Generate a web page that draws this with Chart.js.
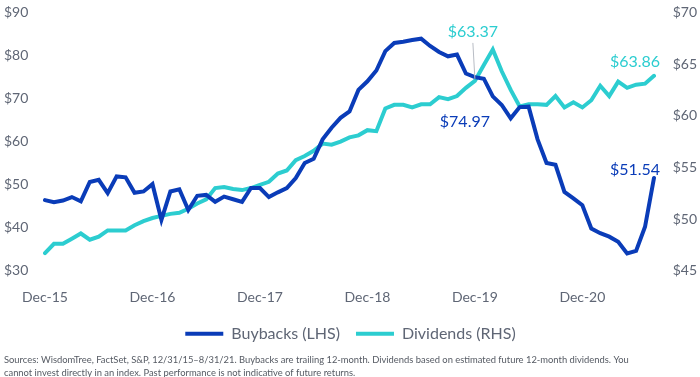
<!DOCTYPE html>
<html>
<head>
<meta charset="utf-8">
<script src="https://cdn.jsdelivr.net/npm/chart.js@4"></script>
<style>
  html, body { margin: 0; padding: 0; background: #fff; }
  #wrap { width: 700px; height: 377px; }
</style>
</head>
<body>
<div id="wrap"><canvas id="myChart"></canvas></div>
<script>
var monthNames = ["Jan","Feb","Mar","Apr","May","Jun","Jul","Aug","Sep","Oct","Nov","Dec"];
var xValues = [];
for (var y = 2015, m = 11; y < 2021 || (y == 2021 && m <= 7); m++) {
    if (m > 11) { m = 0; y++; }
    if (y == 2021 && m > 7) break;
    xValues.push(monthNames[m] + "-" + String(y).slice(2));
}
var tickLabels = ["Dec-15", "Dec-16", "Dec-17", "Dec-18", "Dec-19", "Dec-20"];

var buybacks = [46.4, 45.9, 46.3, 47.1, 46.1, 50.6, 51.1, 48.0, 51.9, 51.7, 48.1, 48.4,
    50.1, 41.8, 48.4, 48.9, 44.1, 47.4, 47.6, 46.0, 47.2, 46.6, 46.0, 49.2,
    49.2, 47.1, 48.2, 49.2, 51.5, 55.0, 56.0, 60.5, 63.2, 65.5, 67.0, 72.0,
    74.0, 76.5, 81.0, 82.9, 83.2, 83.6, 83.9, 82.2, 80.8, 79.8, 80.2, 75.8,
    74.97, 74.6, 70.5, 68.5, 65.4, 68.0, 68.1, 60.5, 55.0, 54.6, 48.3, 46.8,
    45.2, 39.8, 38.7, 37.9, 36.7, 34.0, 34.6, 40.2, 51.54];
var dividends = [46.7, 47.6, 47.6, 48.1, 48.6, 48.0, 48.3, 48.9, 48.9, 48.9, 49.4, 49.8,
    50.1, 50.3, 50.5, 50.6, 51.0, 51.5, 51.9, 53.0, 53.1, 52.9, 52.8, 53.0,
    53.3, 53.6, 54.4, 54.7, 55.7, 56.1, 56.6, 57.3, 57.2, 57.5, 57.9, 58.1,
    58.6, 58.5, 60.7, 61.05, 61.05, 60.8, 61.1, 61.1, 61.8, 61.6, 61.9, 62.7,
    63.37, 64.9, 66.4, 64.3, 62.5, 60.9, 61.1, 61.1, 61.05, 61.9, 60.8, 61.3,
    60.8, 61.5, 62.9, 61.9, 63.3, 62.7, 63.0, 63.1, 63.86];

var darkBlue = "#0a3cb8";
var cyan = "#2ccdd0";
var greyText = "#5f6675";
var fontName = "Lato";

// labels on the chart: [dataset, index, dx, dy, leader line]
var callouts = [
    [1, 48, -2, -49, true],
    [0, 48, -10, 45, false],
    [1, 68, -19, -14, false],
    [0, 68, -19, -8, false]
];

var calloutPlugin = {
    id: "callouts",
    afterDatasetsDraw: function(chart) {
        var ctx = chart.ctx;
        ctx.save();
        ctx.font = "16px " + fontName;
        ctx.textAlign = "center";
        ctx.textBaseline = "middle";
        callouts.forEach(function(c) {
            var ds = chart.data.datasets[c[0]];
            var pt = chart.getDatasetMeta(c[0]).data[c[1]];
            var tx = pt.x + c[2], ty = pt.y + c[3];
            if (c[4]) {
                ctx.strokeStyle = "#b8bcc4";
                ctx.lineWidth = 1;
                ctx.beginPath();
                ctx.moveTo(tx, ty + 11);
                ctx.lineTo(pt.x, pt.y - 2);
                ctx.stroke();
            }
            ctx.fillStyle = ds.borderColor;
            ctx.fillText("$" + ds.data[c[1]].toFixed(2), tx, ty);
        });
        ctx.restore();
    }
};

new Chart("myChart", {
    type: "line",
    data: {
        labels: xValues,
        datasets: [{
            label: "Buybacks (LHS)",
            data: buybacks,
            borderColor: darkBlue,
            backgroundColor: darkBlue,
            borderWidth: 4,
            borderCapStyle: "round",
            pointRadius: 0,
            tension: 0,
            yAxisID: "y"
        }, {
            label: "Dividends (RHS)",
            data: dividends,
            borderColor: cyan,
            backgroundColor: cyan,
            borderWidth: 4,
            borderCapStyle: "round",
            pointRadius: 0,
            tension: 0,
            yAxisID: "y1"
        }]
    },
    options: {
        responsive: true,
        maintainAspectRatio: false,
        animation: false,
        layout: { padding: { top: 0, left: 4, right: 3, bottom: -3 } },
        plugins: {
            legend: {
                position: "bottom",
                labels: {
                    usePointStyle: true,
                    pointStyle: "line",
                    pointStyleWidth: 38,
                    boxHeight: 16,
                    padding: 16,
                    color: greyText,
                    font: { family: fontName, size: 16 }
                }
            },
            subtitle: {
                display: true,
                position: "bottom",
                align: "start",
                text: ["Sources: WisdomTree, FactSet, S&P, 12/31/15\u20138/31/21. Buybacks are trailing 12-month. Dividends based on estimated future 12-month dividends. You",
                       "cannot invest directly in an index. Past performance is not indicative of future returns."],
                color: "#555a63",
                font: { family: fontName, size: 9.4, lineHeight: 1.4 },
                padding: { top: 2, bottom: 0 }
            },
            tooltip: { enabled: false }
        },
        scales: {
            x: {
                offset: false,
                grid: { display: false, drawTicks: false },
                border: { display: false },
                afterFit: function(s) { s.height = 39; },
                ticks: {
                    autoSkip: false,
                    maxRotation: 0,
                    padding: 18,
                    color: greyText,
                    font: { family: fontName, size: 14 },
                    callback: function(v, i) {
                        var lab = xValues[i];
                        return tickLabels.indexOf(lab) >= 0 ? lab : "";
                    }
                }
            },
            y: {
                position: "left",
                min: 30, max: 90,
                grid: { display: false, drawTicks: false },
                border: { display: false },
                afterFit: function(s) { s.width = 41; },
                ticks: {
                    stepSize: 10,
                    padding: 4,
                    crossAlign: "far",
                    color: greyText,
                    font: { family: fontName, size: 14 },
                    callback: function(v) { return "$" + v; }
                }
            },
            y1: {
                position: "right",
                min: 45, max: 70,
                grid: { display: false, drawTicks: false },
                border: { display: false },
                afterFit: function(s) { s.width = 43; },
                ticks: {
                    stepSize: 5,
                    padding: 4,
                    crossAlign: "far",
                    color: greyText,
                    font: { family: fontName, size: 14 },
                    callback: function(v) { return "$" + v; }
                }
            }
        }
    },
    plugins: [calloutPlugin]
});
</script>
</body>
</html>
